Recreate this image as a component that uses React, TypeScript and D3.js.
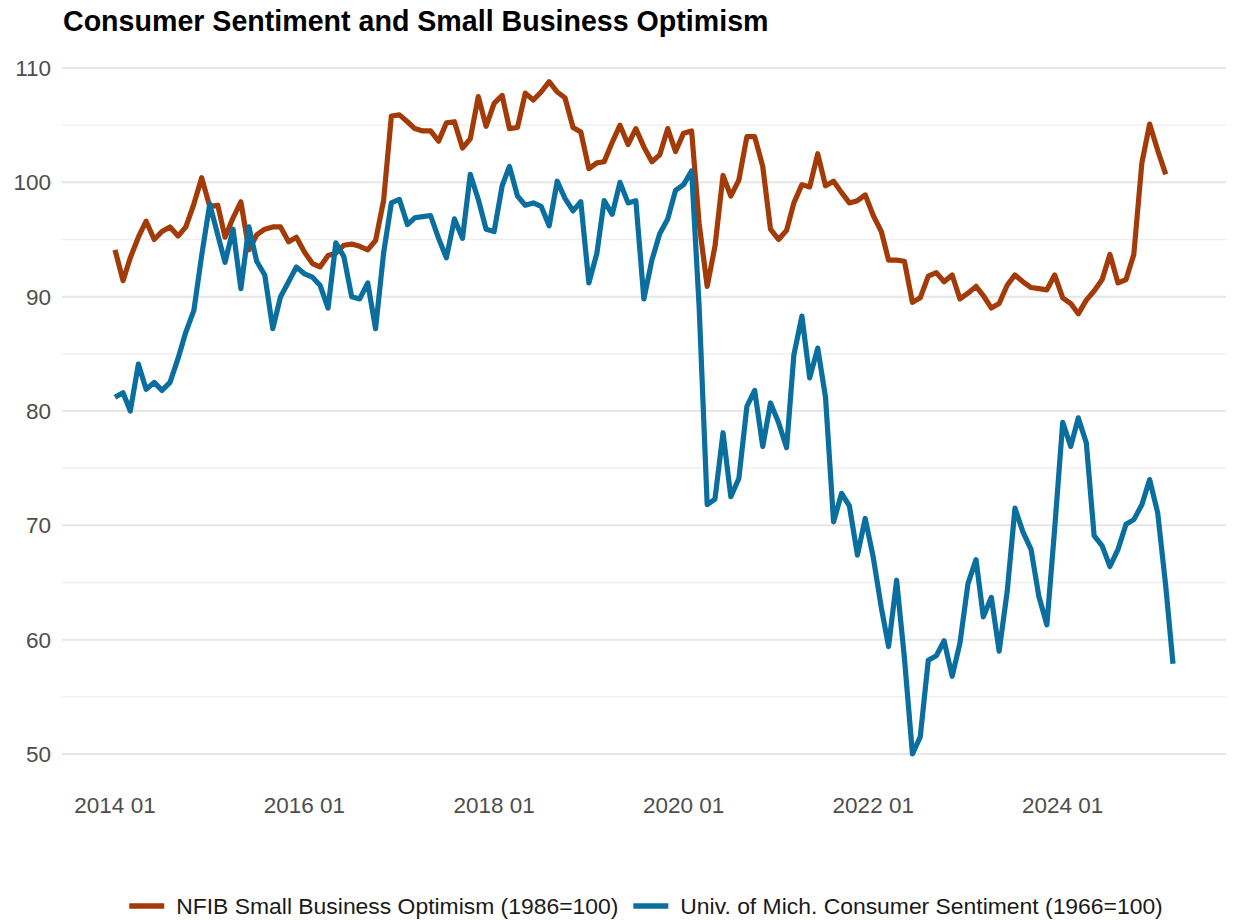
import React, { useEffect, useRef } from "react";
import * as d3 from "d3";

const title = "Consumer Sentiment and Small Business Optimism";
const seriesNames = [
  "NFIB Small Business Optimism (1986=100)",
  "Univ. of Mich. Consumer Sentiment (1966=100)",
];
const seriesColors = ["#A33B08", "#0A6E9F"];

// NFIB monthly, Jan 2014 – Feb 2025
const nfib = [
  94.1, 91.4, 93.4, 95.2, 96.6, 95.0, 95.7, 96.1, 95.3, 96.1, 98.1, 100.4,
  97.9, 98.0, 95.2, 96.9, 98.3, 94.1, 95.4, 95.9, 96.1, 96.1, 94.8, 95.2,
  93.9, 92.9, 92.6, 93.6, 93.8, 94.5, 94.6, 94.4, 94.1, 94.9, 98.4, 105.8,
  105.9, 105.3, 104.7, 104.5, 104.5, 103.6, 105.2, 105.3, 103.0, 103.8, 107.5, 104.9,
  106.9, 107.6, 104.7, 104.8, 107.8, 107.2, 107.9, 108.8, 107.9, 107.4, 104.8, 104.4,
  101.2, 101.7, 101.8, 103.5, 105.0, 103.3, 104.7, 103.1, 101.8, 102.4, 104.7, 102.7,
  104.3, 104.5, 96.4, 90.9, 94.4, 100.6, 98.8, 100.2, 104.0, 104.0, 101.4, 95.9,
  95.0, 95.8, 98.2, 99.8, 99.6, 102.5, 99.7, 100.1, 99.1, 98.2, 98.4, 98.9,
  97.1, 95.7, 93.2, 93.2, 93.1, 89.5, 89.9, 91.8, 92.1, 91.3, 91.9, 89.8,
  90.3, 90.9, 90.1, 89.0, 89.4, 91.0, 91.9, 91.3, 90.8, 90.7, 90.6, 91.9,
  89.9, 89.4, 88.5, 89.7, 90.5, 91.5, 93.7, 91.2, 91.5, 93.7, 101.7, 105.1,
  102.8, 100.7,
];

// U. Michigan monthly, Jan 2014 – Mar 2025
const umich = [
  81.2, 81.6, 80.0, 84.1, 81.9, 82.5, 81.8, 82.5, 84.6, 86.9, 88.8, 93.6,
  98.1, 95.4, 93.0, 95.9, 90.7, 96.1, 93.1, 91.9, 87.2, 90.0, 91.3, 92.6,
  92.0, 91.7, 91.0, 89.0, 94.7, 93.5, 90.0, 89.8, 91.2, 87.2, 93.8, 98.2,
  98.5, 96.3, 96.9, 97.0, 97.1, 95.1, 93.4, 96.8, 95.1, 100.7, 98.5, 95.9,
  95.7, 99.7, 101.4, 98.8, 98.0, 98.2, 97.9, 96.2, 100.1, 98.6, 97.5, 98.3,
  91.2, 93.8, 98.4, 97.2, 100.0, 98.2, 98.4, 89.8, 93.2, 95.5, 96.8, 99.3,
  99.8, 101.0, 89.1, 71.8, 72.3, 78.1, 72.5, 74.1, 80.4, 81.8, 76.9, 80.7,
  79.0, 76.8, 84.9, 88.3, 82.9, 85.5, 81.2, 70.3, 72.8, 71.7, 67.4, 70.6,
  67.2, 62.8, 59.4, 65.2, 58.4, 50.0, 51.5, 58.2, 58.6, 59.9, 56.8, 59.7,
  64.9, 67.0, 62.0, 63.7, 59.0, 64.2, 71.5, 69.4, 67.9, 63.8, 61.3, 69.7,
  79.0, 76.9, 79.4, 77.2, 69.1, 68.2, 66.4, 67.9, 70.1, 70.5, 71.8, 74.0,
  71.1, 64.7, 57.9,
];

const yTicks = [50, 60, 70, 80, 90, 100, 110];
const yMinor = [55, 65, 75, 85, 95, 105];
const xTickYears = [2014, 2016, 2018, 2020, 2022, 2024];

const FONT = "'Liberation Sans', Arial, Helvetica, sans-serif";

export default function App() {
  const ref = useRef<SVGSVGElement | null>(null);

  useEffect(() => {
    const svg = d3.select(ref.current);
    svg.selectAll("*").remove();

    const dataStart = new Date(2014, 0, 1);
    const dataEnd = new Date(2025, 2, 1);
    const x0 = 115, x1 = 1173;
    const ext = (x1 - x0) * 0.05;
    const panelL = x0 - ext, panelR = x1 + ext;

    const x = d3.scaleTime().domain([dataStart, dataEnd]).range([x0, x1]);
    const y = d3.scaleLinear().domain([50, 110]).range([754, 68]);

    const monthDate = (i: number) => new Date(2014, i, 1);

    // Title
    svg.append("text")
      .attr("x", 63).attr("y", 31)
      .attr("font-family", FONT).attr("font-weight", "bold")
      .attr("font-size", 28.6).attr("fill", "#000")
      .text(title);

    // minor grid
    svg.append("g").selectAll("line").data(yMinor).join("line")
      .attr("x1", panelL).attr("x2", panelR)
      .attr("y1", (d) => y(d)).attr("y2", (d) => y(d))
      .attr("stroke", "#EDEDED").attr("stroke-width", 1.3);
    // major grid
    svg.append("g").selectAll("line").data(yTicks).join("line")
      .attr("x1", panelL).attr("x2", panelR)
      .attr("y1", (d) => y(d)).attr("y2", (d) => y(d))
      .attr("stroke", "#E6E6E6").attr("stroke-width", 2);

    // y labels
    svg.append("g").selectAll("text").data(yTicks).join("text")
      .attr("x", panelL - 11).attr("y", (d) => y(d) + 8)
      .attr("text-anchor", "end")
      .attr("font-family", FONT).attr("font-size", 22.5).attr("fill", "#4D4D4D")
      .text((d) => String(d));

    // x labels
    svg.append("g").selectAll("text").data(xTickYears).join("text")
      .attr("x", (d) => x(new Date(d, 0, 1)))
      .attr("y", 813)
      .attr("text-anchor", "middle")
      .attr("font-family", FONT).attr("font-size", 22.5).attr("fill", "#4D4D4D")
      .text((d) => `${d} 01`);

    const line = d3.line<number>()
      .x((_, i) => x(monthDate(i)))
      .y((d) => y(d));

    [nfib, umich].forEach((vals, k) => {
      svg.append("path")
        .attr("d", line(vals) || "")
        .attr("fill", "none")
        .attr("stroke", seriesColors[k])
        .attr("stroke-width", 5.2)
        .attr("stroke-linejoin", "round")
        .attr("stroke-linecap", "butt");
    });

    // legend
    const lg = svg.append("g");
    const keyW = 35, keyGap = 12, itemGap = 15;
    const items: { g: any; w: number }[] = [];
    seriesNames.forEach((name, k) => {
      const g = lg.append("g");
      g.append("line")
        .attr("x1", 0).attr("x2", keyW)
        .attr("y1", 0).attr("y2", 0)
        .attr("stroke", seriesColors[k]).attr("stroke-width", 5.5);
      const t = g.append("text")
        .attr("x", keyW + keyGap).attr("y", 8)
        .attr("font-family", FONT).attr("font-size", 22.9).attr("fill", "#1A1A1A")
        .text(name);
      const tw = (t.node() as SVGTextElement).getComputedTextLength();
      items.push({ g, w: keyW + keyGap + tw });
    });
    const total = items.reduce((s, it) => s + it.w, 0) + itemGap * (items.length - 1);
    const center = 646;
    let cx = center - total / 2;
    items.forEach((it) => {
      it.g.attr("transform", `translate(${cx},906)`);
      cx += it.w + itemGap;
    });
  }, []);

  return (
    <svg
      ref={ref}
      width={1233}
      height={920}
      style={{ position: "absolute", left: 0, top: 0, background: "#fff" }}
    />
  );
}
